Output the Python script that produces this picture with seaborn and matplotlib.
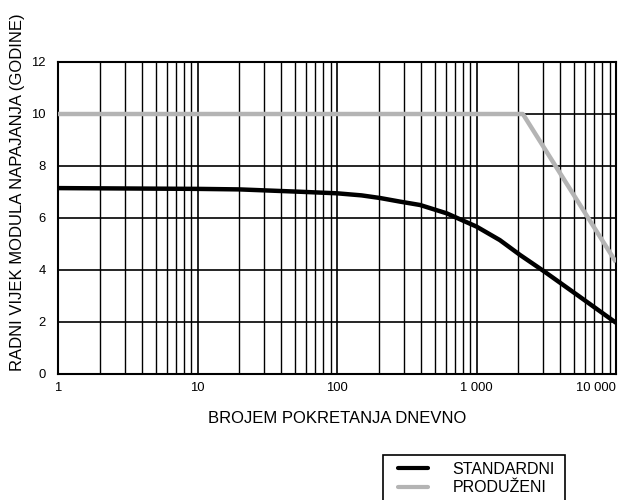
import numpy as np
import pandas as pd
import seaborn as sns
import matplotlib
matplotlib.use("Agg")
import matplotlib.pyplot as plt
import matplotlib.transforms as mtransforms
from matplotlib.patches import Rectangle
from matplotlib.lines import Line2D

# Data
std_x = [1, 10, 20, 54, 100, 150, 203, 283, 394, 611, 800, 1000, 1470, 2050, 3010, 5500, 10000]
std_y = [7.15, 7.12, 7.1, 7.01, 6.95, 6.87, 6.77, 6.63, 6.5, 6.18, 5.9, 5.67, 5.15, 4.58, 3.97, 2.97, 1.97]
ext_x = [1, 2150, 10000]
ext_y = [10, 10, 4.3]
series_names = ["STANDARDNI", "PRODUŽENI"]
x_ticks = [1, 10, 100, 1000, 10000]
x_tick_labels = ["1", "10", "100", "1 000", "10 000"]
y_ticks = [0, 2, 4, 6, 8, 10, 12]

df = pd.concat([
    pd.DataFrame({"x": std_x, "y": std_y, "serija": series_names[0]}),
    pd.DataFrame({"x": ext_x, "y": ext_y, "serija": series_names[1]}),
])

sns.set_style("white")
plt.rcParams["font.family"] = ["Liberation Sans", "DejaVu Sans"]
plt.rcParams["text.color"] = "black"
plt.rcParams["axes.labelcolor"] = "black"
plt.rcParams["xtick.color"] = "black"
plt.rcParams["ytick.color"] = "black"

fig = plt.figure(figsize=(6.24, 5.0), dpi=100)
ax = fig.add_axes([58/624, 1-374/500, (616-58)/624, (374-62)/500])

palette = {series_names[0]: "black", series_names[1]: "#b4b4b4"}
sns.lineplot(data=df, x="x", y="y", hue="serija", palette=palette,
             linewidth=3.2, ax=ax, legend=False, sort=False, zorder=5)
for ln in ax.get_lines():
    ln.set_solid_joinstyle("round")
    ln.set_solid_capstyle("butt")

ax.set_xscale("log")
ax.set_xlim(1, 10000)
ax.set_ylim(0, 12)
ax.set_xticks(x_ticks)
ax.set_xticklabels(x_tick_labels, fontsize=9.4)
ax.set_yticks(y_ticks)
ax.set_yticklabels([str(v) for v in y_ticks], fontsize=9.4)
labs = ax.get_xticklabels()
labs[-1].set_ha("right")
labs[-1].set_transform(labs[-1].get_transform() +
                       mtransforms.ScaledTranslation(7/100, 0, fig.dpi_scale_trans))
labs[0].set_transform(labs[0].get_transform() +
                      mtransforms.ScaledTranslation(2/100, 0, fig.dpi_scale_trans))

ax.grid(True, which="major", axis="both", color="black", linewidth=1.2)
ax.grid(True, which="minor", axis="x", color="black", linewidth=1.0)
ax.tick_params(axis="x", which="major", length=3, width=1.2, pad=3, direction="out")
ax.tick_params(axis="x", which="minor", length=0)
ax.tick_params(axis="y", which="both", length=0, pad=9)
for s in ax.spines.values():
    s.set_color("black")
    s.set_linewidth(1.5)
    s.set_visible(True)

ax.set_xlabel("BROJEM POKRETANJA DNEVNO", fontsize=12, labelpad=12)
ax.set_ylabel("RADNI VIJEK MODULA NAPAJANJA (GODINE)", fontsize=12)
ax.yaxis.set_label_coords((25-58)/558, (374-192)/312)

# Legend
fig.patches.append(Rectangle((383/624, 1-503/500), (565-383)/624, 48/500,
                             transform=fig.transFigure, fill=False,
                             edgecolor="black", linewidth=1.2))
handles = [Line2D([], [], color=palette[n], linewidth=3) for n in series_names]
fig.legend(handles, series_names, loc="upper left",
           bbox_to_anchor=(398/624, 1-462/500), frameon=False,
           fontsize=11.5, handlelength=1.9, handletextpad=1.5,
           labelspacing=0.2, borderpad=0, borderaxespad=0)

fig.savefig("out.png", dpi=100)
